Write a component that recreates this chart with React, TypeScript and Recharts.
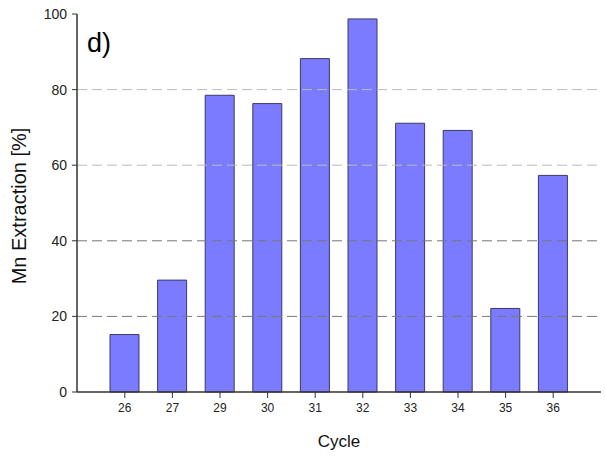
import React from 'react';
import { BarChart, Bar, XAxis, YAxis, ReferenceLine, Customized } from 'recharts';

const cycles = ['26', '27', '29', '30', '31', '32', '33', '34', '35', '36'];
const mnExtraction = [15.2, 29.6, 78.5, 76.3, 88.2, 98.7, 71.1, 69.2, 22.1, 57.3];
const yTicks = [0, 20, 40, 60, 80, 100];
const gridDark = [20, 40];
const gridLight = [60, 80];

const data = cycles.map((c, i) => ({ cycle: c, value: mnExtraction[i] }));

const FONT = '"Liberation Sans", Arial, sans-serif';

export default function App() {
  return (
    <div style={{ position: 'absolute', left: 0, top: 0, background: '#fff' }}>
      <BarChart
        width={606}
        height={457}
        data={data}
        margin={{ top: 14, right: 5, bottom: 0, left: 0 }}
        barCategoryGap={0}
      >
        <XAxis
          dataKey="cycle"
          padding={{ left: 24, right: 24 }}
          height={65}
          tickSize={6}
          tickMargin={5}
          axisLine={{ stroke: '#333', strokeWidth: 1.5 }}
          tickLine={{ stroke: '#333' }}
          tick={{ fontSize: 12, fill: '#222', fontFamily: FONT }}
          label={{ value: 'Cycle', position: 'insideBottom', offset: 10, fontSize: 17, fill: '#111', fontFamily: FONT }}
        />
        <XAxis
          xAxisId="top"
          dataKey="cycle"
          orientation="top"
          height={0}
          tick={false}
          tickLine={false}
          axisLine={{ stroke: '#222', strokeWidth: 1.5 }}
        />
        <YAxis
          domain={[0, 100]}
          ticks={yTicks}
          width={77}
          tickSize={5}
          tickMargin={5}
          interval={0}
          axisLine={{ stroke: '#333', strokeWidth: 1.5 }}
          tickLine={{ stroke: '#333' }}
          tick={{ fontSize: 14, fill: '#222', fontFamily: FONT }}
          label={{ value: 'Mn Extraction [%]', angle: -90, position: 'center', dx: -20, dy: 3, fontSize: 20, fill: '#111', fontFamily: FONT }}
        />
        <YAxis
          yAxisId="right"
          orientation="right"
          domain={[0, 100]}
          width={0}
          tick={false}
          tickLine={false}
          axisLine={{ stroke: '#333', strokeWidth: 1.5 }}
        />
        {gridDark.map((v) => (
          <ReferenceLine key={v} y={v} stroke="#777" strokeDasharray="10 5" />
        ))}
        {gridLight.map((v) => (
          <ReferenceLine key={v} y={v} stroke="#bbb" strokeDasharray="10 5" />
        ))}
        <Bar
          dataKey="value"
          fill="#7b7bff"
          stroke="#3a3a6a"
          strokeWidth={1}
          barSize={29}
          isAnimationActive={false}
        />
        <Customized
          component={() => (
            <text x={87} y={52} fontSize={27} fill="#000" fontFamily={FONT}>
              d)
            </text>
          )}
        />
      </BarChart>
    </div>
  );
}
